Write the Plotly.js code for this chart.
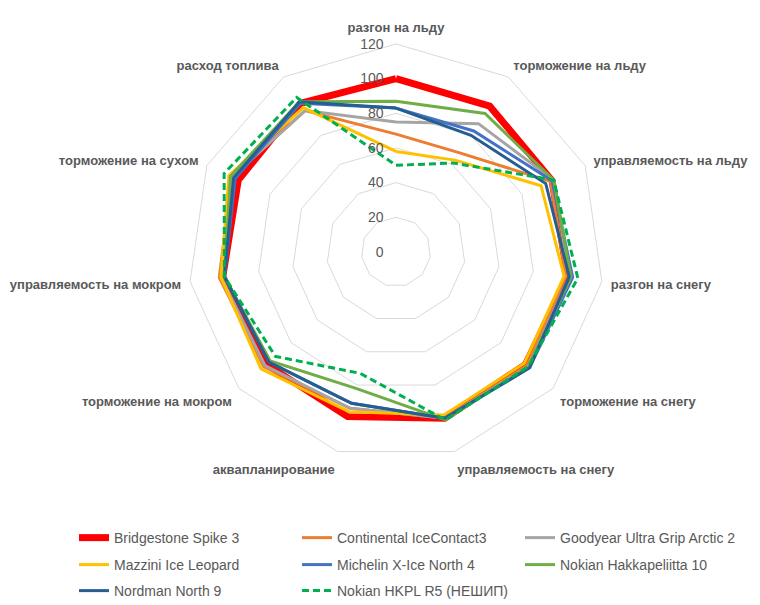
<!DOCTYPE html>
<html>
<head>
<meta charset="utf-8">
<script src="https://cdn.plot.ly/plotly-3.0.1.min.js"></script>
<style>
  html, body { margin: 0; padding: 0; background: #fff; }
  #chart { width: 760px; height: 605px; }
</style>
</head>
<body>
<div id="chart"></div>
<script>
var categories = ["разгон на льду", "торможение на льду", "управляемость на льду", "разгон на снегу",
  "торможение на снегу", "управляемость на снегу", "аквапланирование", "торможение на мокром",
  "управляемость на мокром", "торможение на сухом", "расход топлива"];

var bridgestone = [100, 100, 99, 100, 99, 100, 99, 99, 101, 100, 102];
var continental = [68, 68, 98, 99, 100, 100, 94, 101, 103, 104, 97];
var goodyear    = [75, 88, 100, 101, 101, 100, 94, 100, 102, 104, 97];
var mazzini     = [58, 63, 92, 98, 98, 98, 96, 103, 102, 106, 99];
var michelin    = [83, 83, 99, 103, 102, 100, 91, 97, 100, 102, 102];
var hakka10     = [87, 95, 100, 102, 101, 101, 82, 96, 100, 105, 103];
var nordman     = [83, 80, 95, 101, 102, 100, 91, 97, 100, 103, 103];
var hkplR5      = [50, 61, 100, 106, 101, 101, 73, 92, 100, 109, 106];

var radialTicks = [0, 20, 40, 60, 80, 100, 120];

function closed(arr) { return arr.concat([arr[0]]); }

// legend: row 1 -> 'legend', row 2 -> 'legend2', row 3 -> 'legend3'
function series(name, values, color, width, legendRow, dash) {
  return {
    type: 'scatterpolar',
    mode: 'lines',
    name: name,
    r: closed(values),
    theta: closed(categories),
    line: { color: color, width: width, dash: dash || 'solid' },
    legend: legendRow,
    hoverinfo: 'none'
  };
}

var data = [
  series('Bridgestone Spike 3', bridgestone, '#FF0000', 7, 'legend'),
  series('Continental IceContact3', continental, '#ED7D31', 3, 'legend'),
  series('Goodyear Ultra Grip Arctic 2', goodyear, '#A5A5A5', 3, 'legend'),
  series('Mazzini Ice Leopard', mazzini, '#FFC000', 3, 'legend2'),
  series('Michelin X-Ice North 4', michelin, '#4472C4', 3, 'legend2'),
  series('Nokian Hakkapeliitta 10', hakka10, '#70AD47', 3, 'legend2'),
  series('Nordman North 9', nordman, '#255E91', 3, 'legend3'),
  series('Nokian HKPL R5 (НЕШИП)', hkplR5, '#00B050', 3, 'legend3', '7px,4px')
];

function legendRow(y) {
  return {
    orientation: 'h',
    x: 0.0206, xanchor: 'left',
    y: y, yanchor: 'middle',
    entrywidth: 178,
    bgcolor: 'rgba(0,0,0,0)',
    font: { size: 14, color: '#595959' }
  };
}

var layout = {
  width: 760,
  height: 605,
  paper_bgcolor: '#fff',
  plot_bgcolor: '#fff',
  font: { family: 'Liberation Sans, Arial, sans-serif', color: '#595959' },
  margin: { l: 60, r: 20, t: 0, b: 0, autoexpand: false },
  showlegend: true,
  legend: legendRow(0.1107),
  legend2: legendRow(0.0661),
  legend3: legendRow(0.0231),
  polar: {
    domain: { x: [0.1882, 0.8], y: [0.2397, 0.9273] },
    gridshape: 'linear',
    bgcolor: '#fff',
    radialaxis: {
      range: [0, 120],
      tickvals: radialTicks,
      angle: 90,
      side: 'counterclockwise',
      tickangle: 90,
      showline: false,
      gridcolor: '#D9D9D9',
      gridwidth: 1,
      ticks: 'outside',
      ticklen: 7,
      tickcolor: 'rgba(0,0,0,0)',
      tickfont: { size: 14, color: '#595959' }
    },
    angularaxis: {
      direction: 'clockwise',
      rotation: 90,
      showgrid: false,
      showline: true,
      linecolor: '#D9D9D9',
      linewidth: 1,
      ticks: 'outside',
      ticklen: 6,
      tickcolor: 'rgba(0,0,0,0)',
      tickfont: { size: 13, color: '#595959', weight: 'bold' }
    }
  }
};

Plotly.newPlot('chart', data, layout, { staticPlot: true });
</script>
</body>
</html>
